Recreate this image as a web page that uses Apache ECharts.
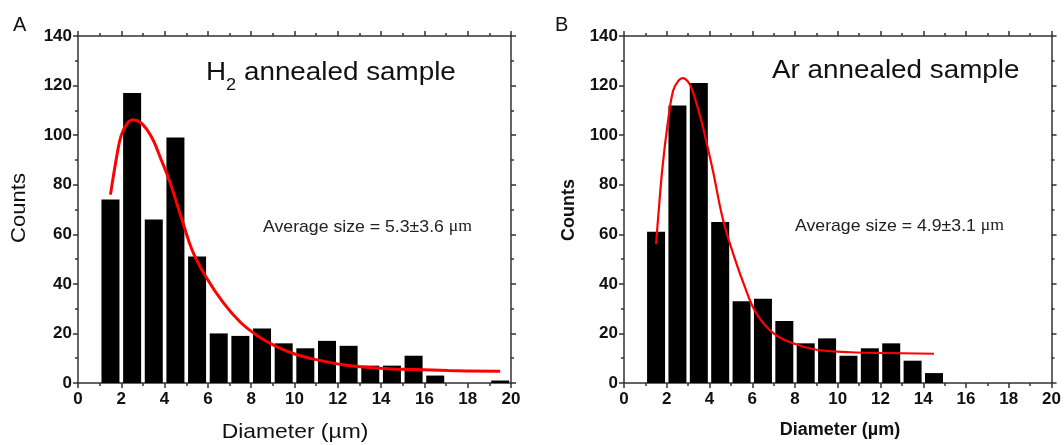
<!DOCTYPE html>
<html>
<head>
<meta charset="utf-8">
<script src="https://cdn.jsdelivr.net/npm/echarts@6/dist/echarts.min.js"></script>
<style>
  html, body { margin: 0; padding: 0; background: #fff; }
  #chart { width: 1064px; height: 445px; }
</style>
</head>
<body>
<div id="chart"></div>
<script>
// ---- Data ----
const xTicks = [0, 2, 4, 6, 8, 10, 12, 14, 16, 18, 20];
const yTicks = [0, 20, 40, 60, 80, 100, 120, 140];

// Panel A (H2 annealed): histogram bin centres (1 µm bins) and counts
const binCentersA = [1.5, 2.5, 3.5, 4.5, 5.5, 6.5, 7.5, 8.5, 9.5, 10.5, 11.5, 12.5, 13.5, 14.5, 15.5, 16.5, 17.5, 18.5, 19.5];
const countsA     = [74, 117, 66, 99, 51, 20, 19, 22, 16, 14, 17, 15, 7, 7, 11, 3, 0, 0, 1];
// Panel A fitted curve
const fitAx = [1.5, 1.8, 2.0, 2.3, 2.55, 2.9, 3.2, 3.5, 3.8, 4.1, 4.4, 4.8, 5.3, 5.9, 6.7, 7.5, 8.3, 9.1, 9.9, 10.7, 12.3, 13.9, 15.5, 17.1, 19.5];
const fitAy = [76, 92, 100, 105, 106.2, 105, 102, 97.5, 91, 84.5, 77, 66, 53, 43, 32.5, 24.5, 19, 15, 12, 10, 7.3, 6, 5.4, 5.0, 4.7];

// Panel B (Ar annealed)
const binCentersB = [1.5, 2.5, 3.5, 4.5, 5.5, 6.5, 7.5, 8.5, 9.5, 10.5, 11.5, 12.5, 13.5, 14.5];
const countsB     = [61, 112, 121, 65, 33, 34, 25, 16, 18, 11, 14, 16, 9, 4];
const fitBx = [1.5, 1.6, 1.8, 2.05, 2.3, 2.55, 2.75, 3.0, 3.2, 3.45, 3.7, 4.15, 4.6, 5.0, 5.6, 6.2, 7.0, 7.9, 9.0, 10.6, 12.2, 14.5];
const fitBy = [56, 67, 87, 105, 118, 122, 123, 121.5, 118, 111, 103, 86, 67, 55, 40, 28, 20, 16, 13.4, 12.4, 12.1, 11.8];

const titles = ['H', ' annealed sample', 'Ar annealed sample'];
const avgText = ['Average size = 5.3\u00b13.6 ', 'Average size = 4.9\u00b13.1 '];

// ---- Build ----
const SANS = 'Liberation Sans, Arial, sans-serif';
const SERIF = 'Liberation Serif, Times New Roman, serif';
const AXC = '#333';
const grids = [
  { left: 78, top: 36, width: 433, height: 347 },
  { left: 624, top: 36, width: 432, height: 347 }
];

function pairs(xs, ys) { return xs.map((x, i) => [x, ys[i]]).filter(p => p[1] > 0); }

const xAxes = [], yAxes = [];
grids.forEach((g, gi) => {
  const common = {
    gridIndex: gi, type: 'value', min: 0, max: 20, interval: 2,
    axisLine: { show: true, onZero: false, lineStyle: { color: AXC, width: 1.5 } },
    axisTick: { show: true, inside: false, length: 5, lineStyle: { color: AXC, width: 1.5 } },
    minorTick: { show: true, splitNumber: 2, length: 3, lineStyle: { color: AXC, width: 1.5 } },
    splitLine: { show: false }
  };
  xAxes.push(Object.assign({}, common, {
    position: 'bottom',
    axisLabel: { show: true, margin: 8, color: '#111', fontFamily: SANS, fontWeight: 'bold', fontSize: 17,
      formatter: v => (xTicks.indexOf(v) >= 0 ? String(v) : '') }
  }));
  xAxes.push(Object.assign({}, common, { position: 'top', axisLabel: { show: false } }));
  const ycommon = Object.assign({}, common, { min: 0, max: 140, interval: 20 });
  yAxes.push(Object.assign({}, ycommon, {
    position: 'left',
    axisLabel: { show: true, margin: 6, color: '#111', fontFamily: SANS, fontWeight: 'bold', fontSize: 17,
      formatter: v => (yTicks.indexOf(v) >= 0 ? String(v) : '') }
  }));
  yAxes.push(Object.assign({}, ycommon, { position: 'right', axisLabel: { show: false } }));
});

const series = [
  { type: 'bar', xAxisIndex: 0, yAxisIndex: 0, data: pairs(binCentersA, countsA), barWidth: 18,
    itemStyle: { color: '#000' }, silent: true },
  { type: 'line', xAxisIndex: 0, yAxisIndex: 0, data: pairs(fitAx, fitAy), smooth: 0.4, showSymbol: false,
    lineStyle: { color: '#ff0000', width: 3 }, z: 5, silent: true },
  { type: 'bar', xAxisIndex: 2, yAxisIndex: 2, data: pairs(binCentersB, countsB), barWidth: 18,
    itemStyle: { color: '#000' }, silent: true },
  { type: 'line', xAxisIndex: 2, yAxisIndex: 2, data: pairs(fitBx, fitBy), smooth: 0.4, showSymbol: false,
    lineStyle: { color: '#ff0000', width: 2.2 }, z: 5, silent: true }
];

function txt(x, y, text, font, extra) {
  return {
    type: 'text', x: x, y: y, silent: true, z: 10,
    style: Object.assign({ text: text, fill: '#111', font: font, align: 'left', verticalAlign: 'middle' }, extra || {})
  };
}

const graphic = [
  txt(13, 25, 'A', 'normal 20px ' + SANS),
  txt(555, 25, 'B', 'normal 20px ' + SANS),
  // panel titles
  { type: 'text', x: 206, y: 73, scaleX: 1.07, silent: true, z: 10,
    style: { text: '{n|' + titles[0] + '}{s|2}{n|' + titles[1] + '}', fill: '#111', align: 'left', verticalAlign: 'middle',
      rich: { n: { fontSize: 26, fontFamily: SANS, fill: '#111', lineHeight: 30 },
              s: { fontSize: 17, fontFamily: SANS, fill: '#111', verticalAlign: 'bottom', lineHeight: 22, padding: [0, 0, -6, 0] } } } },
  { type: 'text', x: 772, y: 71, scaleX: 1.07, silent: true, z: 10,
    style: { text: titles[2], font: 'normal 26px ' + SANS, fill: '#111', align: 'left', verticalAlign: 'middle' } },
  // average size annotations
  { type: 'text', x: 263, y: 227, scaleX: 1.04, silent: true, z: 10,
    style: { text: '{n|' + avgText[0] + '}{u|\u03bcm}', fill: '#222', align: 'left', verticalAlign: 'middle',
      rich: { n: { fontSize: 17, fontFamily: SANS, fill: '#222' }, u: { fontSize: 17, fontFamily: SERIF, fill: '#222' } } } },
  { type: 'text', x: 795, y: 226, scaleX: 1.04, silent: true, z: 10,
    style: { text: '{n|' + avgText[1] + '}{u|\u03bcm}', fill: '#222', align: 'left', verticalAlign: 'middle',
      rich: { n: { fontSize: 17, fontFamily: SANS, fill: '#222' }, u: { fontSize: 17, fontFamily: SERIF, fill: '#222' } } } },
  // axis names
  { type: 'text', x: 19, y: 208, rotation: Math.PI / 2, scaleX: 1.05, silent: true,
    style: { text: 'Counts', font: 'normal 21px ' + SANS, fill: '#111', align: 'center', verticalAlign: 'middle' } },
  { type: 'text', x: 295, y: 432, scaleX: 1.09, silent: true,
    style: { text: 'Diameter (\u00b5m)', font: 'normal 21px ' + SANS, fill: '#111', align: 'center', verticalAlign: 'middle' } },
  { type: 'text', x: 569, y: 210, rotation: Math.PI / 2, silent: true,
    style: { text: 'Counts', font: 'bold 18px ' + SANS, fill: '#111', align: 'center', verticalAlign: 'middle' } },
  { type: 'text', x: 840, y: 430, silent: true,
    style: { text: 'Diameter (\u00b5m)', font: 'bold 18px ' + SANS, fill: '#111', align: 'center', verticalAlign: 'middle' } }
];

const chart = echarts.init(document.getElementById('chart'), null, { renderer: 'canvas' });
chart.setOption({
  animation: false,
  backgroundColor: '#fff',
  grid: grids,
  xAxis: xAxes,
  yAxis: yAxes,
  series: series,
  graphic: graphic
});
</script>
</body>
</html>
